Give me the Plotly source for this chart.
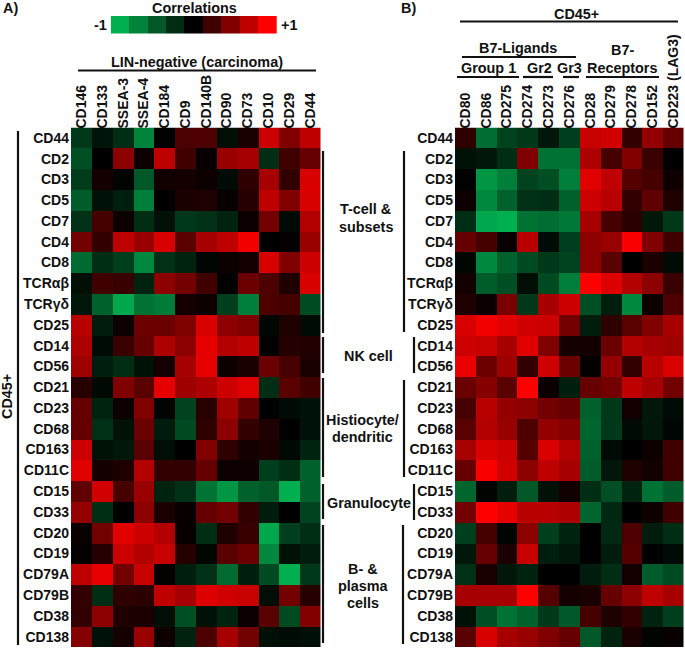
import plotly.graph_objects as go

W, H = 685, 649
FONT = "Liberation Sans"

cols_a = ["CD146","CD133","SSEA-3","SSEA-4","CD184","CD9","CD140B","CD90","CD73","CD10","CD29","CD44"]
cols_b = ["CD80","CD86","CD275","CD274","CD273","CD276","CD28","CD279","CD278","CD152","CD223 (LAG3)"]
rows = ["CD44","CD2","CD3","CD5","CD7","CD4","CD8","TCRαβ","TCRγδ","CD25","CD14","CD56","CD21","CD23","CD68",
        "CD163","CD11C","CD15","CD33","CD20","CD19","CD79A","CD79B","CD38","CD138"]

values_a = [
 [-.32,-.12,-.26,-.75,0,.3,.3,-.08,.1,.8,.5,.75],
 [-.45,0,.55,.05,.75,.25,.03,.6,.65,-.26,.25,.4],
 [-.34,.08,-.03,-.5,.07,.08,.05,-.06,.18,.65,.2,.85],
 [-.52,-.1,-.17,-.72,0,.1,.12,.03,.15,.75,.5,.85],
 [-.28,.28,.05,-.26,-.1,-.32,-.28,-.2,.05,.45,-.06,.7],
 [.45,.2,.75,.6,.85,.35,.65,.75,.95,0,.02,.6],
 [-.6,-.26,-.36,-.78,-.28,-.2,-.04,.05,.07,.85,.5,.8],
 [-.09,.25,.22,-.2,.55,.45,.25,0,.42,.3,.12,.85],
 [-.13,-.55,-.95,-.65,-.7,.08,.05,-.36,-.72,.3,.27,-.43],
 [.72,-.16,.05,.42,.42,.5,.85,.55,.5,-.04,.12,-.06],
 [.68,-.06,.22,.4,.68,.55,.9,.7,.75,0,.15,.13],
 [.62,-.17,-.26,-.1,.08,.65,.9,.05,.1,.42,.28,.1],
 [.15,-.05,.5,.35,.9,.62,.68,.8,.88,-.26,.35,.25],
 [.4,-.2,.05,.5,-.02,-.38,.15,.62,.38,0,-.06,-.1],
 [.4,-.28,-.1,.42,-.16,-.42,.18,.55,.2,.12,0,-.1],
 [.8,-.1,-.13,.35,-.08,0,.5,.18,.08,.1,-.05,-.2],
 [.88,.08,.12,.7,.2,.2,.4,.05,.06,-.36,-.26,-.55],
 [.38,.82,.28,.6,-.2,-.28,-.66,-.85,-.55,-.5,-1,-.55],
 [.58,-.26,0,.55,.1,.03,.4,.45,.2,-.16,0,-.38],
 [.04,.45,.88,.8,.7,.03,-.26,.12,.22,-.95,-.36,-.26],
 [.02,.15,.8,.7,.78,.15,-.04,.35,.42,-.78,-.1,-.16],
 [.75,.9,.45,.78,.02,-.17,-.28,-.6,-.17,-.42,-1,-.32],
 [.2,-.26,.18,.17,.75,.65,.87,.82,.78,-.08,.45,.15],
 [.2,.55,.12,.1,-.08,-.45,-.1,-.2,.05,.35,-.42,.5],
 [.52,-.1,.08,.6,.06,-.2,.3,.65,.45,-.09,-.06,-.09],
]
values_b = [
 [.18,-.62,-.38,-.32,-.13,-.36,.78,.82,.2,.58,.4],
 [-.1,-.13,-.26,.5,-.65,-.65,.68,.28,.5,.22,0],
 [-.01,-.85,-.72,-.38,-.45,-.72,.88,.75,.33,.27,.06],
 [.05,-.78,-.55,-.28,-.26,-.55,.8,.72,.2,.38,.12],
 [-.26,-.95,-1,-.65,-.62,-.68,.65,.28,.17,-.13,-.32],
 [.4,.28,.03,.72,-.06,-.36,.55,.6,.98,.5,.25],
 [-.04,-.78,-.55,-.42,-.32,-.38,.55,.35,0,.1,-.06],
 [.07,-.52,-.45,-.08,-.42,-.72,1,.87,.7,.55,.22],
 [.12,.05,.48,-.32,.65,.8,-.45,-.17,-.78,.05,.3],
 [.85,.95,.88,.82,.8,.45,-.16,.18,.35,.5,.65],
 [.8,.78,.65,.88,.5,.08,.07,.42,.7,.65,.62],
 [.92,.42,.62,.2,.82,.42,.02,.58,.2,.72,.85],
 [.42,.52,.35,1,.04,-.17,.4,.45,.75,.65,.45],
 [.28,.72,.58,.55,.45,.4,-.55,-.32,.07,-.13,-.06],
 [.35,.7,.6,.3,.58,.52,-.58,-.32,-.06,-.13,-.04],
 [.65,.85,.8,.33,.85,.7,-.55,-.06,0,.05,.25],
 [.4,.98,.82,.55,.75,.65,-.52,-.13,.12,.07,.25],
 [-.58,-.03,-.17,-.5,-.1,.07,-.26,-.45,-.2,-.65,-.52],
 [.45,1,.9,.72,.72,.68,-.58,-.22,0,.06,.25],
 [-.36,.28,-.03,.55,-.36,-.2,0,-.23,.3,-.16,-.26],
 [-.13,.4,.1,.78,-.17,-.13,0,-.16,.33,0,-.06],
 [-.28,.1,-.13,-.2,0,0,-.16,-.26,.07,-.52,-.42],
 [.65,.65,.65,1,.33,.08,.1,.4,.55,.75,.65],
 [-.1,-.45,-.65,-.55,-.32,-.5,.28,.12,.2,-.2,-.36],
 [.35,.85,.65,.6,.5,.4,-.5,-.2,.1,-.03,.03],
]
legend_values = [-1,-.75,-.5,-.25,0,.25,.5,.75,1]

SCALE = [[0,"rgb(0,176,80)"],[.5,"rgb(0,0,0)"],[1,"rgb(255,0,0)"]]

def px(x): return x / W
def py(y): return 1 - y / H

fig = go.Figure()
fig.add_trace(go.Heatmap(z=values_a, x=cols_a, y=rows, xaxis="x", yaxis="y",
                         zmin=-1, zmax=1, colorscale=SCALE, showscale=False))
fig.add_trace(go.Heatmap(z=values_b, x=cols_b, y=rows, xaxis="x2", yaxis="y2",
                         zmin=-1, zmax=1, colorscale=SCALE, showscale=False))
fig.add_trace(go.Heatmap(z=[legend_values], xaxis="x3", yaxis="y3",
                         zmin=-1, zmax=1, colorscale=SCALE, showscale=False))

TOP, BOT = 127.5, 647
tf = dict(family=FONT, size=14, color="#111", weight="bold")
xt = dict(side="top", tickangle=-90, ticks="", showgrid=False, zeroline=False, showline=False,
          tickfont=tf, type="category", ticklabelstandoff=-2)
yt = dict(autorange="reversed", ticks="", showgrid=False, zeroline=False, showline=False,
          tickfont=tf, type="category", ticklabelstandoff=1)
fig.update_layout(
    width=W, height=H, margin=dict(l=0, r=0, t=0, b=0),
    paper_bgcolor="white", plot_bgcolor="white", showlegend=False,
    font=dict(family=FONT, color="#111"),
    xaxis=dict(xt, domain=[px(71), px(320.5)], anchor="y"),
    yaxis=dict(yt, domain=[py(BOT), py(TOP)], anchor="x"),
    xaxis2=dict(xt, domain=[px(455), px(683.5)], anchor="y2"),
    yaxis2=dict(yt, domain=[py(BOT), py(TOP)], anchor="x2"),
    xaxis3=dict(domain=[px(110.7), px(277)], anchor="y3", visible=False),
    yaxis3=dict(domain=[py(33.5), py(16)], anchor="x3", visible=False),
)

def text(x, y, s, anchor="center", size=14.4, angle=0):
    fig.add_annotation(xref="paper", yref="paper", x=px(x), y=py(y), text=s, showarrow=False,
                       xanchor=anchor, yanchor="middle", textangle=angle,
                       font=dict(family=FONT, size=size, color="#111", weight="bold"))

def line(x0, y0, x1, y1, w=2.2):
    fig.add_shape(type="line", xref="paper", yref="paper", x0=px(x0), y0=py(y0), x1=px(x1), y1=py(y1),
                  line=dict(color="#111", width=w))

text(10, 8, "A)"); text(408, 8, "B)")
text(194, 8, "Correlations")
text(109, 25, "-1", "right"); text(279, 25, "+1", "left")
text(197, 62, "LIN-negative (carcinoma)"); line(78, 70.5, 316, 70.5)
text(7, 397, "CD45+", angle=-90); line(18, 131, 18, 645)

for y0, y1 in [(151, 333), (337, 373), (378, 477), (484, 519), (525, 643)]:
    line(323, y0, 323, y1)
for xl, y0, y1 in [(404, 151, 332), (414, 337, 373), (404, 380, 477), (414, 484, 520), (403, 525, 644)]:
    line(xl, y0, xl, y1)

text(366, 209, "T-cell &"); text(366, 227, "subsets")
text(368, 356, "NK cell")
text(362, 420, "Histiocyte/"); text(362, 437, "dendritic")
text(369, 503, "Granulocyte")
text(363, 569, "B- &"); text(363, 586, "plasma"); text(363, 603, "cells")

text(576, 14, "CD45+"); line(460, 21.5, 678, 21.5)
text(518, 48, "B7-Ligands"); line(462, 57, 576, 57)
text(488, 68, "Group 1"); line(457, 77, 519, 77)
text(539, 68, "Gr2"); line(523, 77, 553, 77)
text(569, 68, "Gr3"); line(563, 77, 579, 77)
text(622, 50, "B7-"); text(622, 68, "Receptors"); line(586, 77, 659, 77)

fig.write_html("out.html", config=dict(displayModeBar=False),
               post_script="document.body.style.margin='0';")
